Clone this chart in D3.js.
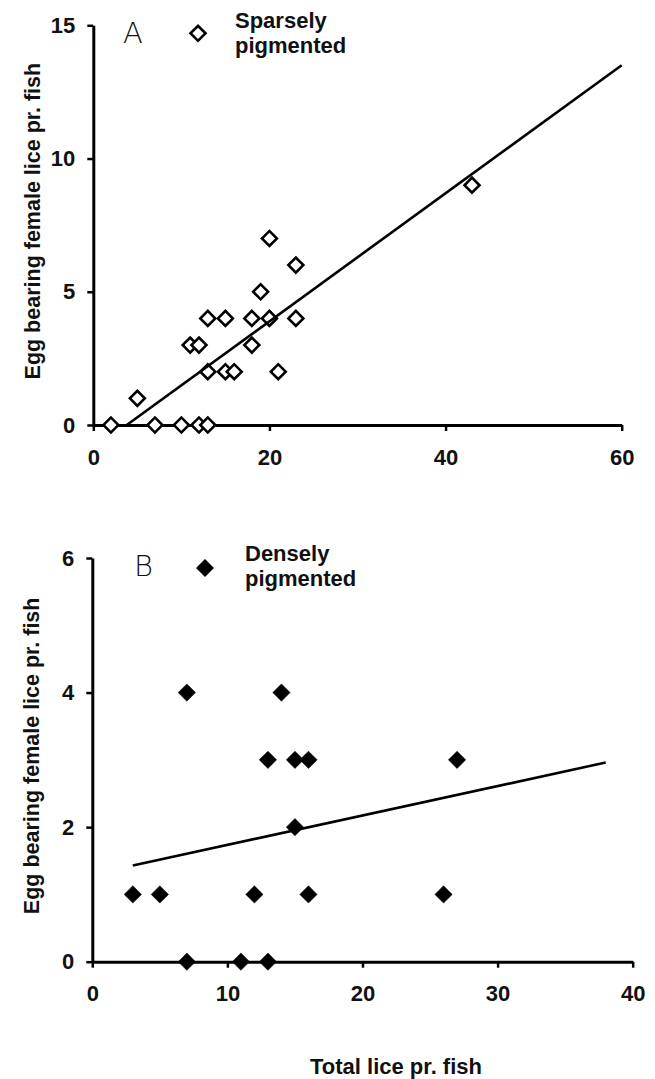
<!DOCTYPE html>
<html>
<head>
<meta charset="utf-8">
<script src="https://cdn.jsdelivr.net/npm/d3@7"></script>
<style>
  body { margin: 0; background: #fff; }
  svg { display: block; font-family: "Liberation Sans", Arial, sans-serif; }
  .axis text { font-size: 22px; font-weight: bold; fill: #111; }
  .axis path, .axis line { stroke: #000; }
</style>
</head>
<body>
<div id="chart"></div>
<script>
const W = 655, H = 1079;

// panel A - sparsely pigmented
const totalA = [2, 7, 10, 12, 13, 5, 11, 12, 13, 15, 16, 13, 15, 18, 20, 23, 18, 19, 20, 23, 21, 43];
const eggA   = [0, 0, 0, 0, 0, 1, 3, 3, 2, 2, 2, 4, 4, 4, 4, 4, 3, 5, 7, 6, 2, 9];
const trendA = [[3.8, 0], [60, 13.5]];
const xTicksA = [0, 20, 40, 60];
const yTicksA = [0, 5, 10, 15];

// panel B - densely pigmented
const totalB = [7, 14, 13, 15, 16, 27, 15, 3, 5, 12, 16, 26, 7, 11, 13];
const eggB   = [4, 4, 3, 3, 3, 3, 2, 1, 1, 1, 1, 1, 0, 0, 0];
const trendB = [[3, 1.43], [38, 2.96]];
const xTicksB = [0, 10, 20, 30, 40];
const yTicksB = [0, 2, 4, 6];

const yTitle = "Egg bearing female lice pr. fish";
const xTitle = "Total lice pr. fish";

const svg = d3.select("#chart").append("svg")
  .attr("width", W).attr("height", H);

const panels = [
  { key: "A", xs: totalA, ys: eggA, trend: trendA, xTicks: xTicksA, yTicks: yTicksA,
    left: 93.3, right: 621.7, top: 25.3, bottom: 425, filled: false,
    legend: ["Sparsely", "pigmented"], letterX: 123, markX: 198, markDy: 8, textX: 235, titleX: 32 },
  { key: "B", xs: totalB, ys: eggB, trend: trendB, xTicks: xTicksB, yTicks: yTicksB,
    left: 92.3, right: 632.7, top: 558, bottom: 961.7, filled: true,
    legend: ["Densely", "pigmented"], letterX: 134, markX: 205, markDy: 10, textX: 245, titleX: 31 }
];

const diamond = (size) => d3.symbol().type(d3.symbolSquare).size(size);

panels.forEach(p => {
  const x = d3.scaleLinear().domain(d3.extent(p.xTicks)).range([p.left, p.right]);
  const y = d3.scaleLinear().domain(d3.extent(p.yTicks)).range([p.bottom, p.top]);
  const g = svg.append("g");

  g.append("g")
    .attr("class", "axis")
    .attr("transform", `translate(0,${p.bottom})`)
    .call(d3.axisBottom(x).tickValues(p.xTicks).tickFormat(d3.format("d"))
      .tickSize(6).tickSizeOuter(0).tickPadding(18));

  g.append("g")
    .attr("class", "axis")
    .attr("transform", `translate(${p.left},0)`)
    .call(d3.axisLeft(y).tickValues(p.yTicks).tickFormat(d3.format("d"))
      .tickSize(6).tickSizeOuter(0).tickPadding(12));

  g.selectAll(".axis path").attr("stroke-width", 3);
  g.selectAll(".axis line").attr("stroke-width", 2.5);
  g.selectAll(".axis text").attr("font-family", "Liberation Sans, Arial, sans-serif");

  // points
  const pts = p.xs.map((v, i) => [v, p.ys[i]]);
  g.selectAll("path.pt")
    .data(pts)
    .enter()
    .append("path")
    .attr("class", "pt")
    .attr("d", diamond(p.filled ? 150 : 112)())
    .attr("transform", d => `translate(${x(d[0])},${y(d[1])}) rotate(45)`)
    .attr("fill", p.filled ? "#000" : "#fff")
    .attr("stroke", "#000")
    .attr("stroke-width", p.filled ? 0.5 : 2.6);

  // trend line
  g.append("path")
    .datum(p.trend)
    .attr("fill", "none")
    .attr("stroke", "#000")
    .attr("stroke-width", 2.6)
    .attr("d", d3.line().x(d => x(d[0])).y(d => y(d[1])));

  // panel letter
  g.append("text")
    .attr("x", p.letterX)
    .attr("y", p.top + 18)
    .attr("font-size", 29)
    .attr("font-family", "DejaVu Sans, Liberation Sans, sans-serif")
    .attr("font-weight", 200)
    .attr("fill", "#111")
    .text(p.key);

  // legend
  g.append("path")
    .attr("d", diamond(p.filled ? 150 : 112)())
    .attr("transform", `translate(${p.markX},${p.top + p.markDy}) rotate(45)`)
    .attr("fill", p.filled ? "#000" : "#fff")
    .attr("stroke", "#000")
    .attr("stroke-width", p.filled ? 0.5 : 2.6);

  g.append("text")
    .attr("x", p.textX)
    .attr("y", p.top + 3)
    .attr("font-size", 22)
    .attr("font-weight", "bold")
    .attr("fill", "#111")
    .selectAll("tspan")
    .data(p.legend)
    .enter()
    .append("tspan")
    .attr("x", p.textX)
    .attr("dy", (d, i) => i === 0 ? 0 : 25)
    .text(d => d);

  // y title
  g.append("text")
    .attr("transform", `translate(${p.titleX},${(p.top + p.bottom) / 2 - 4}) rotate(-90)`)
    .attr("text-anchor", "middle")
    .attr("dy", "0.35em")
    .attr("font-size", 21.5)
    .attr("font-weight", "bold")
    .attr("fill", "#111")
    .text(yTitle);
});

svg.append("text")
  .attr("x", 396)
  .attr("y", 1074)
  .attr("text-anchor", "middle")
  .attr("font-size", 22)
  .attr("font-weight", "bold")
  .attr("fill", "#111")
  .text(xTitle);
</script>
</body>
</html>
